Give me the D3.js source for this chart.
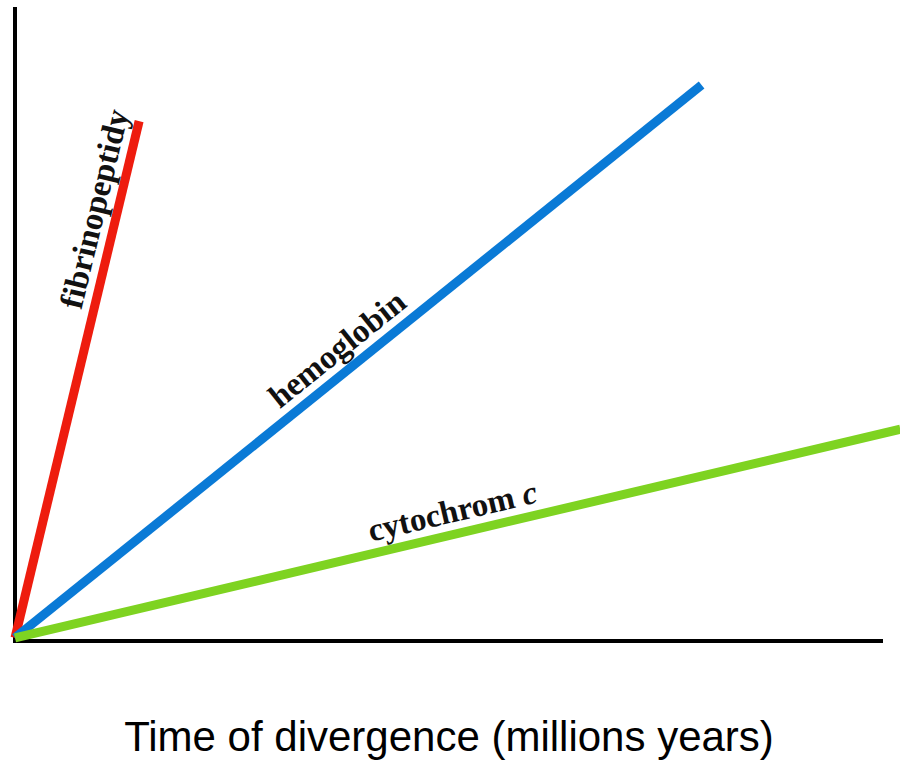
<!DOCTYPE html>
<html>
<head>
<meta charset="utf-8">
<script src="https://cdn.jsdelivr.net/npm/d3@7"></script>
<style>
  body { margin: 0; background: #fff; }
  svg { display: block; }
</style>
</head>
<body>
<svg id="chart" width="900" height="761"></svg>
<script>
// Rates of protein evolution: distance vs. time of divergence (relative units)
var proteins = ["fibrinopeptidy", "hemoglobin", "cytochrom c"];
var timeEnd = [14.3, 79.1, 102.0];
var distanceEnd = [82.0, 87.7, 33.4];
var colors = ["#ee1c0e", "#0a7ad6", "#7ed321"];
var labelAt = [0.82, 0.49, 0.5];
var axisTitle = "Time of divergence (millions years)";

var svg = d3.select("#chart");

var x = d3.scaleLinear().domain([0, 100]).range([15, 883]);
var y = d3.scaleLinear().domain([0, 100]).range([641, 7]);

// axes, drawn as plain thick lines (no ticks in the figure)
svg.append("line")
  .attr("x1", x(0)).attr("x2", x(0))
  .attr("y1", y(0) + 2).attr("y2", y(100))
  .attr("stroke", "#000").attr("stroke-width", 4);
svg.append("line")
  .attr("x1", x(0) - 2).attr("x2", x(100))
  .attr("y1", y(0)).attr("y2", y(0))
  .attr("stroke", "#000").attr("stroke-width", 4);

var line = d3.line().x(function(d) { return x(d[0]); }).y(function(d) { return y(d[1]); });

for (var i = 0; i < proteins.length; i++) {
  var pts = [[0, 0.5], [timeEnd[i], distanceEnd[i]]];
  svg.append("path")
    .attr("d", line(pts))
    .attr("fill", "none")
    .attr("stroke", colors[i])
    .attr("stroke-width", 9);

  // label sits along the line, rotated to its slope
  var x0 = x(0), y0 = y(0.5), x1 = x(timeEnd[i]), y1 = y(distanceEnd[i]);
  var angle = Math.atan2(y1 - y0, x1 - x0) * 180 / Math.PI;
  var lx = x0 + (x1 - x0) * labelAt[i];
  var ly = y0 + (y1 - y0) * labelAt[i];
  var label = svg.append("text")
    .attr("transform", "translate(" + lx + "," + ly + ") rotate(" + angle + ")")
    .attr("y", -12)
    .attr("text-anchor", "middle")
    .attr("font-family", "'Liberation Serif', 'Times New Roman', serif")
    .attr("font-weight", "bold")
    .attr("font-size", 33)
    .attr("fill", "#111");
  if (proteins[i] == "cytochrom c") {
    label.append("tspan").text("cytochrom ");
    label.append("tspan").attr("font-style", "italic").text("c");
  } else {
    label.text(proteins[i]);
  }
}

svg.append("text")
  .attr("x", 449)
  .attr("y", 751)
  .attr("text-anchor", "middle")
  .attr("font-family", "'Liberation Sans', Arial, sans-serif")
  .attr("font-size", 42)
  .attr("fill", "#000")
  .text(axisTitle);
</script>
</body>
</html>
